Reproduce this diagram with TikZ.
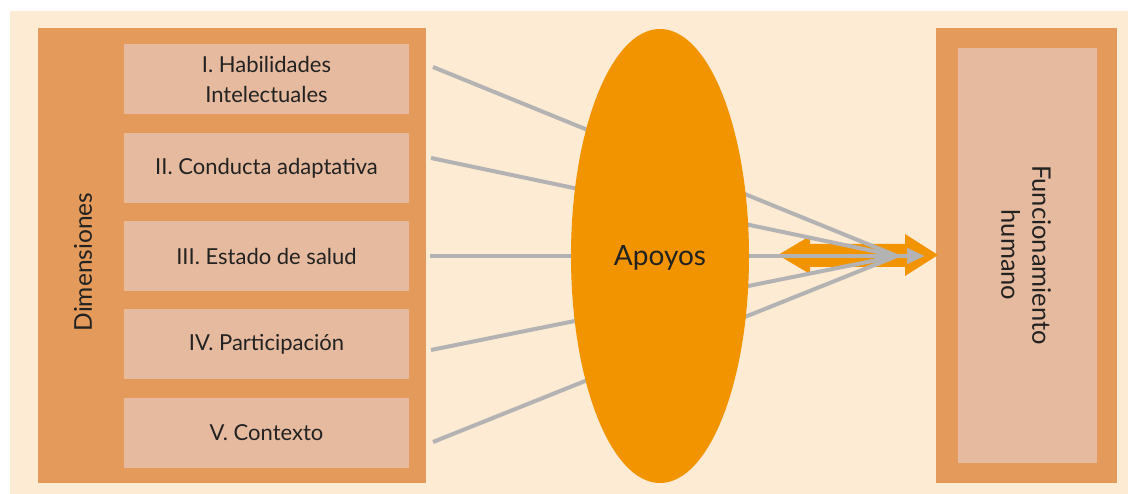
\documentclass[tikz,border=0pt]{standalone}
\usepackage{fontspec}
\setmainfont{Lato}
\usetikzlibrary{arrows.meta}
\definecolor{cream}{HTML}{FDEBD4}
\definecolor{boxorange}{HTML}{E39A5A}
\definecolor{innerbox}{HTML}{E6BA9E}
\definecolor{ellorange}{HTML}{F29400}
\definecolor{linegray}{HTML}{B3B3B3}
\definecolor{txt}{HTML}{222222}
\begin{document}
\begin{tikzpicture}[x=1pt,y=-1pt,
  dimbox/.style={fill=innerbox,draw=none,minimum width=285pt,minimum height=70pt,inner sep=0pt,
    text=txt,font=\fontsize{22}{30}\selectfont,align=center},
  conn/.style={draw=linegray,line width=4pt},
]
\useasboundingbox (0,0) rectangle (1128,494);
\fill[cream] (10,11) rectangle (1128,494);
% left frame
\node[fill=boxorange,minimum width=388pt,minimum height=455pt,inner sep=0pt,anchor=north west] (left) at (38,28) {};
\node[rotate=90,text=txt,font=\fontsize{24.5}{29}\selectfont] (dim) at (83,262) {Dimensiones};
\node[dimbox] (b1) at (266.5,79) {I. Habilidades\\Intelectuales};
\node[dimbox] (b2) at (266.5,168) {II. Conducta adaptativa};
\node[dimbox] (b3) at (266.5,256) {III. Estado de salud};
\node[dimbox] (b4) at (266.5,344) {IV. Participación};
\node[dimbox] (b5) at (266.5,433) {V. Contexto};
% right frame
\node[fill=boxorange,minimum width=181pt,minimum height=455pt,inner sep=0pt,anchor=north west] (right) at (936,28) {};
\node[fill=innerbox,minimum width=139pt,minimum height=415pt,inner sep=0pt,anchor=north west] (rin) at (958,48) {};
\node[rotate=-90,text=txt,align=center,font=\fontsize{25.5}{31}\selectfont] (fh) at (1026,255) {Funcionamiento\\humano};
% double arrow
\coordinate (lt) at (778,255);
\coordinate (rt) at (938,255);
\fill[ellorange] (lt) -- (810,236) -- (810,244) -- (905,244) -- (905,234) -- (rt) -- (905,276) -- (905,267) -- (810,267) -- (810,274) -- cycle;
% connectors
\coordinate (s1) at (433,67);
\coordinate (s2) at (431,158);
\coordinate (s3) at (430,256);
\coordinate (s4) at (431,350);
\coordinate (s5) at (433,442);
\coordinate (c) at (897,256);
\coordinate (tip) at (925,256);
\draw[conn] (s1) -- (c);
\draw[conn] (s2) -- (c);
\draw[conn] (s4) -- (c);
\draw[conn] (s5) -- (c);
\draw[conn,line width=4.5pt,-{Triangle[length=18pt,width=15pt]}] (s3) -- (tip);
% ellipse
\fill[ellorange] (660,256) ellipse [x radius=89, y radius=227];
\node[text=txt,font=\fontsize{28}{33}\selectfont] (ap) at (660,258) {Apoyos};
\end{tikzpicture}
\end{document}
